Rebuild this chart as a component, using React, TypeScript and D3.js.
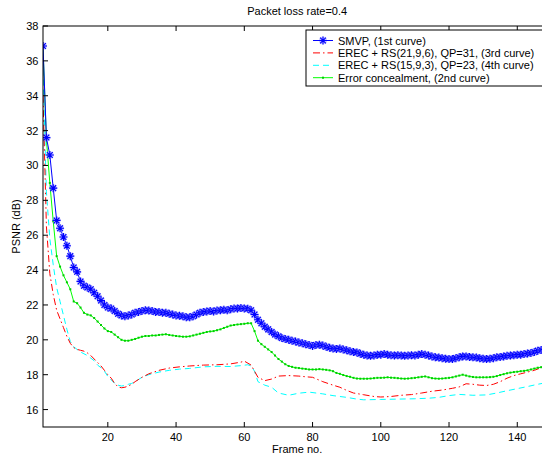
import * as d3 from 'd3'

// frame numbers 1..150 for the marker series
const FRAMES = d3.range(1, 151)

const SMVP = [
  36.85, 31.6, 30.6, 28.7, 26.85, 26.4, 25.9, 25.4, 24.8, 24.15,
  23.9, 23.35, 23.1, 23.0, 22.9, 22.7, 22.5, 22.25, 22.0, 21.85,
  21.8, 21.65, 21.5, 21.4, 21.35, 21.4, 21.45, 21.55, 21.6, 21.65,
  21.7, 21.68, 21.65, 21.6, 21.6, 21.55, 21.55, 21.5, 21.45, 21.4,
  21.38, 21.35, 21.3, 21.3, 21.35, 21.45, 21.55, 21.6, 21.62, 21.65,
  21.62, 21.68, 21.7, 21.72, 21.7, 21.75, 21.8, 21.8, 21.82, 21.8,
  21.78, 21.7, 21.45, 21.15, 20.95, 20.75, 20.6, 20.45, 20.3, 20.2,
  20.1, 20.05, 20.0, 19.95, 19.9, 19.85, 19.8, 19.75, 19.7, 19.65,
  19.7, 19.72, 19.68, 19.6, 19.55, 19.5, 19.48, 19.5, 19.45, 19.4,
  19.35, 19.3, 19.28, 19.2, 19.15, 19.1, 19.08, 19.1, 19.15, 19.15,
  19.18, 19.15, 19.12, 19.1, 19.12, 19.1, 19.08, 19.1, 19.12, 19.1,
  19.15, 19.18, 19.15, 19.1, 19.05, 19.0, 18.98, 18.95, 18.92, 18.9,
  18.9, 18.95, 19.0, 19.05, 19.05, 19.02, 19.0, 18.98, 18.95, 18.92,
  18.9, 18.92, 18.95, 19.0, 19.02, 19.05, 19.08, 19.1, 19.12, 19.15,
  19.15, 19.18, 19.22, 19.25, 19.3, 19.38, 19.42, 19.45, 19.5, 19.55,
]

const CONCEAL = [
  36.8, 31.5, 29.0, 26.8, 24.8, 24.2, 23.7, 23.3, 22.9, 22.2,
  22.1, 21.85, 21.55, 21.45, 21.4, 21.25, 21.05, 20.85, 20.65, 20.5,
  20.45, 20.3, 20.15, 20.0, 19.95, 19.95, 20.0, 20.05, 20.12, 20.18,
  20.22, 20.22, 20.25, 20.25, 20.28, 20.3, 20.32, 20.28, 20.25, 20.22,
  20.2, 20.18, 20.18, 20.2, 20.25, 20.3, 20.35, 20.4, 20.45, 20.48,
  20.5, 20.55, 20.6, 20.68, 20.75, 20.82, 20.85, 20.88, 20.9, 20.92,
  20.95, 20.95, 20.5, 19.95, 19.75, 19.6, 19.45, 19.3, 19.1, 18.9,
  18.75, 18.6, 18.5, 18.45, 18.4, 18.38, 18.35, 18.33, 18.3, 18.3,
  18.3, 18.32, 18.3, 18.28, 18.25, 18.2, 18.1, 18.05, 17.98, 17.92,
  17.88, 17.82, 17.78, 17.77, 17.77, 17.77, 17.78, 17.8, 17.82, 17.82,
  17.83, 17.85, 17.83, 17.82, 17.8, 17.78, 17.77, 17.78, 17.8, 17.82,
  17.85, 17.88, 17.9, 17.85, 17.8, 17.78, 17.77, 17.78, 17.8, 17.82,
  17.85, 17.9, 17.95, 18.0, 17.95, 17.9, 17.87, 17.85, 17.85, 17.85,
  17.85, 17.86, 17.88, 17.92, 17.98, 18.03, 18.08, 18.12, 18.15, 18.17,
  18.2, 18.22, 18.25, 18.3, 18.35, 18.4, 18.43, 18.45, 18.5, 18.52,
]

const RS21_FRAMES = [
  1, 2, 3, 4, 5, 6, 7, 8, 9, 10,
  11, 12, 13, 14, 15, 16, 17, 18, 19, 20,
  21, 22, 23, 24, 25, 26, 27, 28, 30, 32,
  35, 38, 41, 44, 48, 52, 56, 59, 60, 62,
  63, 64, 66, 68, 70, 73, 76, 78, 80, 83,
  86, 88, 90, 92, 95, 98, 100, 103, 106, 109,
  112, 115, 118, 121, 123, 125, 127, 129, 131, 133,
  135, 137, 139, 141, 143, 145, 147, 150,
]
const RS21 = [
  34.0, 26.5, 23.8, 22.6, 21.7, 21.2, 20.7, 20.2, 19.8, 19.55,
  19.45, 19.4, 19.35, 19.25, 19.1, 18.9, 18.7, 18.5, 18.25, 18.0,
  17.8, 17.5, 17.3, 17.25, 17.28, 17.35, 17.45, 17.6, 17.85, 18.05,
  18.25, 18.38, 18.45, 18.5, 18.55, 18.57, 18.62, 18.72, 18.78, 18.55,
  18.2, 17.85, 17.66, 17.75, 17.92, 17.95, 17.92, 17.88, 17.85, 17.6,
  17.4, 17.28, 17.1, 16.95, 16.85, 16.75, 16.72, 16.75, 16.82, 16.86,
  16.95, 17.05, 17.12, 17.22, 17.3, 17.48, 17.45, 17.4, 17.38, 17.45,
  17.6, 17.8, 17.95, 18.05, 18.15, 18.25, 18.4, 18.5,
]

const RS15_FRAMES = [
  1, 2, 3, 4, 5, 6, 7, 8, 9, 10,
  11, 12, 13, 14, 15, 16, 17, 18, 19, 20,
  21, 22, 23, 24, 25, 26, 27, 28, 30, 32,
  35, 38, 41, 44, 48, 52, 56, 59, 61, 62,
  63, 64, 66, 68, 70, 73, 76, 79, 83, 86,
  90, 93, 95, 100, 105, 110, 114, 117, 120, 123,
  127, 131, 134, 137, 140, 143, 146, 150,
]
const RS15 = [
  35.5, 28.5, 25.8, 24.3, 23.0, 22.2, 21.4, 20.6, 19.9, 19.6,
  19.45, 19.3, 19.2, 19.1, 18.95, 18.8, 18.55, 18.4, 18.2, 17.9,
  17.7, 17.5, 17.4, 17.35, 17.38, 17.45, 17.5, 17.6, 17.85, 18.0,
  18.15, 18.25, 18.32, 18.36, 18.45, 18.48, 18.47, 18.52, 18.57, 18.5,
  18.2, 17.6, 17.4, 17.28, 16.95, 16.82, 16.94, 17.0, 16.9, 16.8,
  16.7, 16.6, 16.56, 16.58, 16.6, 16.62, 16.65, 16.7, 16.8, 16.87,
  16.82, 16.84, 16.95, 17.08, 17.2, 17.32, 17.45, 17.6,
]

const X_TICKS = [20, 40, 60, 80, 100, 120, 140]
const Y_TICKS = [16, 18, 20, 22, 24, 26, 28, 30, 32, 34, 36, 38]

const LEGEND = [
  'SMVP, (1st curve)',
  'EREC + RS(21,9,6), QP=31, (3rd curve)',
  'EREC + RS(15,9,3), QP=23, (4th curve)',
  'Error concealment, (2nd curve)',
]

const FONT = "'Liberation Sans', Arial, Helvetica, sans-serif"

function Star({ x, y }: { x: number; y: number }) {
  const r = 4
  const d = r * 0.72
  const p = `M${x - r},${y}H${x + r}M${x},${y - r}V${y + r}M${x - d},${y - d}L${x + d},${y + d}M${x - d},${y + d}L${x + d},${y - d}`
  return (
    <g>
      <path d={p} stroke="#8f8fff" strokeWidth={2.4} strokeOpacity={0.55} />
      <path d={p} stroke="#0000ff" strokeWidth={1.1} />
    </g>
  )
}

export default function App() {
  const W = 542
  const H = 455
  const left = 43
  const top = 26
  const bottom = 427
  const x = d3.scaleLinear().domain([1, 150]).range([left, left + 149 * 3.412])
  const y = d3.scaleLinear().domain([15, 38]).range([bottom, top])
  const right = x(150)

  const line = d3
    .line<[number, number]>()
    .x((d) => x(d[0]))
    .y((d) => y(d[1]))

  const smvp = FRAMES.map((f, i) => [f, SMVP[i]] as [number, number])
  const conceal = FRAMES.map((f, i) => [f, CONCEAL[i]] as [number, number])
  const rs21 = RS21_FRAMES.map((f, i) => [f, RS21[i]] as [number, number])
  const rs15 = RS15_FRAMES.map((f, i) => [f, RS15[i]] as [number, number])

  const lgX = 306
  const lgTop = 30
  const rowY = (i: number) => 40.5 + i * 12.4

  return (
    <svg
      width={W}
      height={H}
      style={{ position: 'absolute', left: 0, top: 0, background: '#fff' }}
      fontFamily={FONT}
    >
      <defs>
        <clipPath id="plot">
          <rect x={left} y={top} width={right - left} height={bottom - top} />
        </clipPath>
      </defs>

      <text x={(left + right) / 2} y={15} textAnchor="middle" fontSize={11}>
        Packet loss rate=0.4
      </text>

      <g clipPath="url(#plot)" fill="none">
        <path d={line(rs15) || ''} stroke="#00ffff" strokeWidth={1} strokeDasharray="6,4" />
        <path d={line(rs21) || ''} stroke="#ff0000" strokeWidth={1} strokeDasharray="7,3,1.5,3" />
        <path d={line(conceal) || ''} stroke="#00ff00" strokeWidth={1} />
        {conceal.map((d, i) => (
          <rect key={i} x={x(d[0]) - 1} y={y(d[1]) - 1} width={2} height={2} fill="#00cc00" />
        ))}
        <path d={line(smvp) || ''} stroke="#0000ff" strokeWidth={1} />
        {smvp.map((d, i) => (
          <Star key={i} x={x(d[0])} y={y(d[1])} />
        ))}
      </g>

      {/* axes box and inward ticks */}
      <rect x={left} y={top} width={right - left} height={bottom - top} fill="none" stroke="#000" strokeWidth={1} />
      {X_TICKS.map((t) => (
        <g key={t}>
          <line x1={x(t)} x2={x(t)} y1={bottom} y2={bottom - 5} stroke="#000" />
          <line x1={x(t)} x2={x(t)} y1={top} y2={top + 5} stroke="#000" />
          <text x={x(t)} y={bottom + 13.5} textAnchor="middle" fontSize={11}>
            {t}
          </text>
        </g>
      ))}
      {Y_TICKS.map((t) => (
        <g key={t}>
          <line x1={left} x2={left + 5} y1={y(t)} y2={y(t)} stroke="#000" />
          <line x1={right} x2={right - 5} y1={y(t)} y2={y(t)} stroke="#000" />
          <text x={left - 4.5} y={y(t) + 4} textAnchor="end" fontSize={11}>
            {t}
          </text>
        </g>
      ))}

      <text x={(left + right) / 2} y={453} textAnchor="middle" fontSize={11}>
        Frame no.
      </text>
      <text transform={`translate(20,${(top + bottom) / 2}) rotate(-90)`} textAnchor="middle" fontSize={11}>
        PSNR (dB)
      </text>

      {/* legend */}
      <rect x={lgX} y={lgTop} width={260} height={56} fill="#fff" stroke="#000" strokeWidth={1} />
      {LEGEND.map((label, i) => {
        const yy = rowY(i)
        const x1 = lgX + 7
        const x2 = lgX + 27
        return (
          <g key={label}>
            {i === 0 && <line x1={x1} x2={x2} y1={yy} y2={yy} stroke="#0000ff" />}
            {i === 0 && <Star x={(x1 + x2) / 2} y={yy} />}
            {i === 1 && <line x1={x1} x2={x2} y1={yy} y2={yy} stroke="#ff0000" strokeDasharray="7,3,1.5,3" />}
            {i === 2 && <line x1={x1} x2={x2} y1={yy} y2={yy} stroke="#00ffff" strokeDasharray="6,4" />}
            {i === 3 && <line x1={x1} x2={x2} y1={yy} y2={yy} stroke="#00ff00" />}
            {i === 3 && <rect x={(x1 + x2) / 2 - 1} y={yy - 1} width={2} height={2} fill="#00cc00" />}
            <text x={lgX + 32} y={yy + 4} fontSize={11}>
              {label}
            </text>
          </g>
        )
      })}
    </svg>
  )
}
